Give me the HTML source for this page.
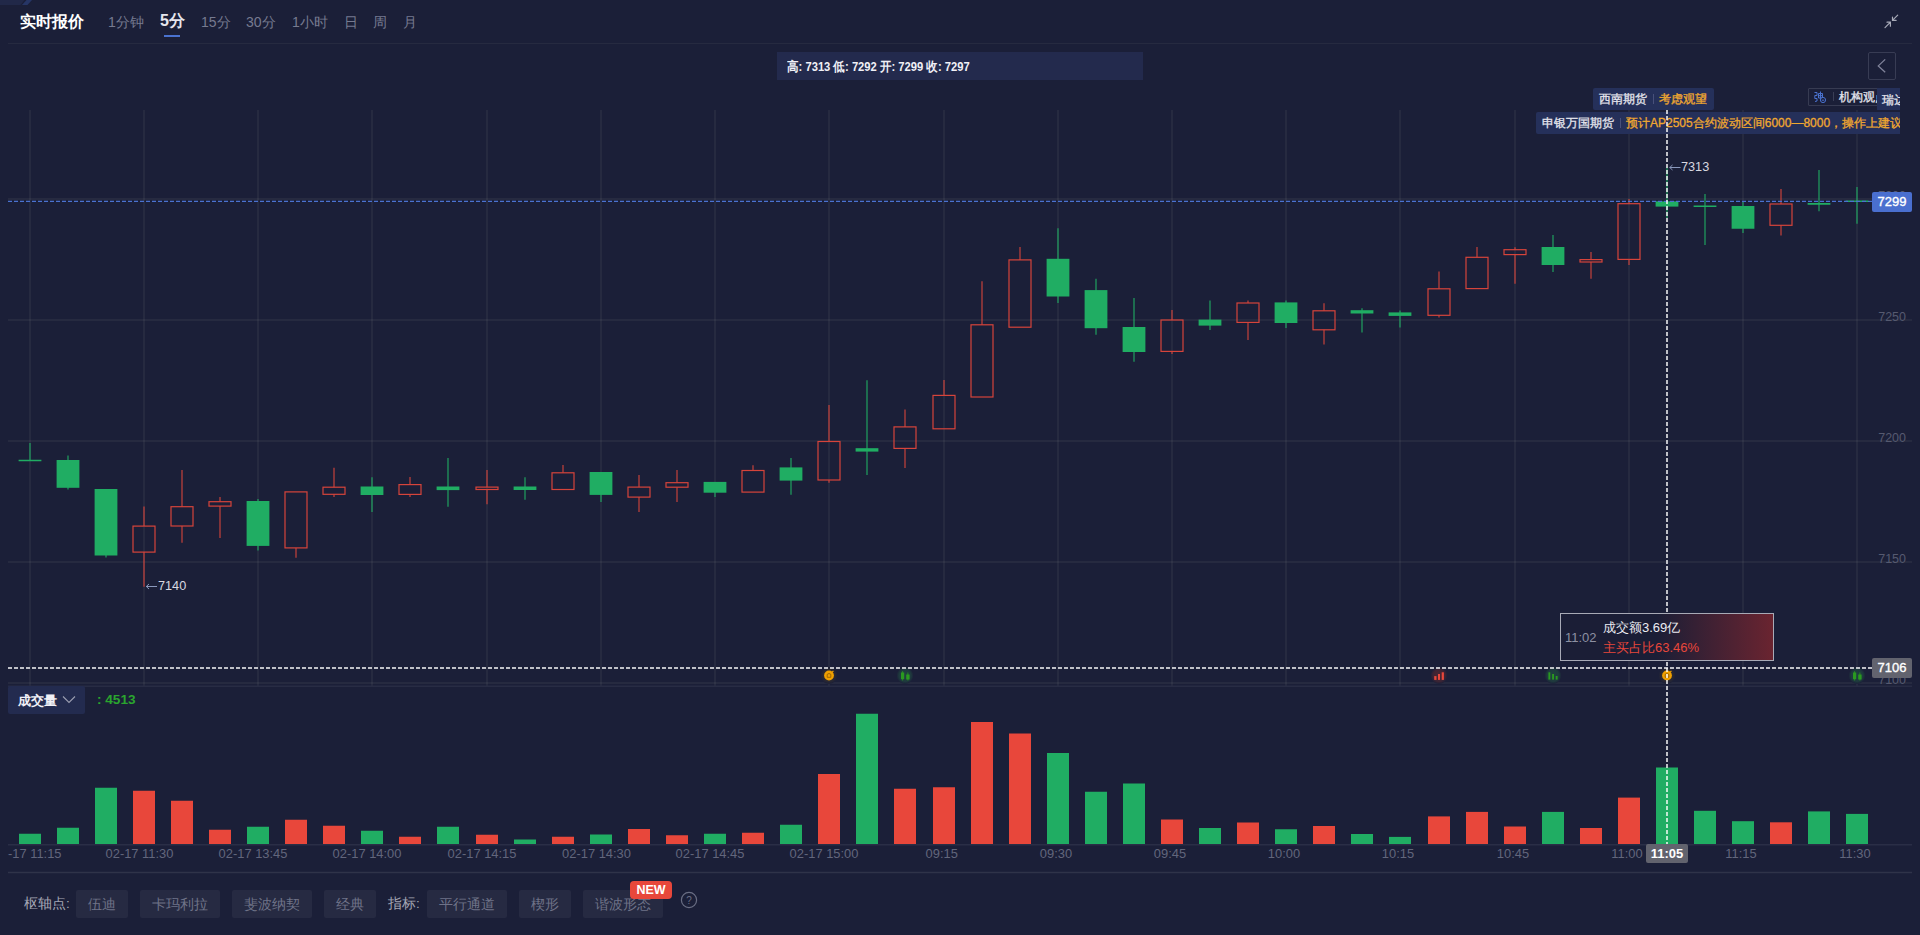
<!DOCTYPE html>
<html><head><meta charset="utf-8">
<style>
html,body{margin:0;padding:0;}
body{width:1920px;height:935px;overflow:hidden;background:#1b1f38;position:relative;font-family:"Liberation Sans",sans-serif;}
.abs{position:absolute;}
svg{position:absolute;left:0;top:0;}
.tab{position:absolute;top:12px;font-size:14px;color:#767a90;line-height:20px;white-space:nowrap;}
.xl{position:absolute;top:846px;font-size:12.9px;color:#62667c;line-height:16px;white-space:nowrap;}
.btn{position:absolute;top:890px;height:28px;line-height:28px;background:#262a42;border-radius:2px;color:#6f7388;font-size:14px;text-align:center;}
.lbl{position:absolute;top:894px;line-height:20px;color:#a4a6b4;font-size:13.5px;white-space:nowrap;}
</style></head><body>
<svg class="abs" style="left:0;top:0" width="40" height="8"><polygon points="0,0 24.5,0 20.5,5 0,5" fill="#212848"/><polygon points="26.5,0 32,0 27.5,5 22,5" fill="#263565"/></svg>
<div class="abs" style="left:20px;top:11px;font-size:16px;font-weight:bold;color:#ffffff;line-height:22px;">实时报价</div>
<div class="tab" style="left:108px">1分钟</div>
<div class="tab" style="left:160px;top:10px;font-size:16px;font-weight:bold;color:#e6e6ee;line-height:22px">5分</div>
<div class="abs" style="left:164px;top:35px;width:16px;height:2px;background:#4a72d0"></div>
<div class="tab" style="left:201px">15分</div>
<div class="tab" style="left:246px">30分</div>
<div class="tab" style="left:292px">1小时</div>
<div class="tab" style="left:344px">日</div>
<div class="tab" style="left:373px">周</div>
<div class="tab" style="left:403px">月</div>
<div class="abs" style="left:8px;top:43px;width:1904px;height:1px;background:#262a40"></div>
<svg class="abs" style="left:1880px;top:10px" width="24" height="24" viewBox="0 0 24 24"><g stroke="#a8aab8" stroke-width="1.2" fill="none" stroke-linecap="round"><path d="M5 17.6 L10.2 12.4 M7 12.2 L10.4 12.2 L10.4 16.2"/><path d="M17.7 5.2 L12.7 10.2 M12.5 7 L12.5 10.4 L16.1 10.4"/></g></svg>

<div class="abs" style="left:777px;top:52px;width:366px;height:28px;background:#232a4d;"></div>
<div class="abs" style="left:787px;top:59px;font-size:12.6px;font-weight:bold;color:#f0f0f6;line-height:16px;white-space:nowrap;transform:scaleX(0.89);transform-origin:0 0;">高: 7313 低: 7292 开: 7299 收: 7297</div>

<div class="abs" style="left:1868px;top:52px;width:26px;height:26px;border:1px solid #383c54;border-radius:2px;"></div>
<svg class="abs" style="left:1868px;top:52px" width="28" height="28"><path d="M17.2 7.4 L10.3 13.9 L17.2 20.2" stroke="#80839a" stroke-width="1.3" fill="none"/></svg>

<svg width="1920" height="935" font-family="Liberation Sans, sans-serif">
<line x1="8" y1="199" x2="1912" y2="199" stroke="rgb(150,160,150)" stroke-opacity="0.09" stroke-width="2"/>
<line x1="8" y1="320" x2="1912" y2="320" stroke="rgb(150,160,150)" stroke-opacity="0.09" stroke-width="2"/>
<line x1="8" y1="441" x2="1912" y2="441" stroke="rgb(150,160,150)" stroke-opacity="0.09" stroke-width="2"/>
<line x1="8" y1="562" x2="1912" y2="562" stroke="rgb(150,160,150)" stroke-opacity="0.09" stroke-width="2"/>
<line x1="8" y1="683" x2="1912" y2="683" stroke="rgb(150,160,150)" stroke-opacity="0.09" stroke-width="2"/>
<line x1="30" y1="110" x2="30" y2="686" stroke="rgb(150,160,150)" stroke-opacity="0.09" stroke-width="2"/>
<line x1="144" y1="110" x2="144" y2="686" stroke="rgb(150,160,150)" stroke-opacity="0.09" stroke-width="2"/>
<line x1="258" y1="110" x2="258" y2="686" stroke="rgb(150,160,150)" stroke-opacity="0.09" stroke-width="2"/>
<line x1="372" y1="110" x2="372" y2="686" stroke="rgb(150,160,150)" stroke-opacity="0.09" stroke-width="2"/>
<line x1="487" y1="110" x2="487" y2="686" stroke="rgb(150,160,150)" stroke-opacity="0.09" stroke-width="2"/>
<line x1="601" y1="110" x2="601" y2="686" stroke="rgb(150,160,150)" stroke-opacity="0.09" stroke-width="2"/>
<line x1="715" y1="110" x2="715" y2="686" stroke="rgb(150,160,150)" stroke-opacity="0.09" stroke-width="2"/>
<line x1="829" y1="110" x2="829" y2="686" stroke="rgb(150,160,150)" stroke-opacity="0.09" stroke-width="2"/>
<line x1="944" y1="110" x2="944" y2="686" stroke="rgb(150,160,150)" stroke-opacity="0.09" stroke-width="2"/>
<line x1="1058" y1="110" x2="1058" y2="686" stroke="rgb(150,160,150)" stroke-opacity="0.09" stroke-width="2"/>
<line x1="1172" y1="110" x2="1172" y2="686" stroke="rgb(150,160,150)" stroke-opacity="0.09" stroke-width="2"/>
<line x1="1286" y1="110" x2="1286" y2="686" stroke="rgb(150,160,150)" stroke-opacity="0.09" stroke-width="2"/>
<line x1="1400" y1="110" x2="1400" y2="686" stroke="rgb(150,160,150)" stroke-opacity="0.09" stroke-width="2"/>
<line x1="1515" y1="110" x2="1515" y2="686" stroke="rgb(150,160,150)" stroke-opacity="0.09" stroke-width="2"/>
<line x1="1629" y1="110" x2="1629" y2="686" stroke="rgb(150,160,150)" stroke-opacity="0.09" stroke-width="2"/>
<line x1="1743" y1="110" x2="1743" y2="686" stroke="rgb(150,160,150)" stroke-opacity="0.09" stroke-width="2"/>
<line x1="1857" y1="110" x2="1857" y2="686" stroke="rgb(150,160,150)" stroke-opacity="0.09" stroke-width="2"/>
<line x1="8" y1="686.3" x2="1912" y2="686.3" stroke="#282c44" stroke-width="1.5"/>
<text x="1906" y="321.1" text-anchor="end" font-size="12.5" fill="#565a70">7250</text>
<text x="1906" y="442.1" text-anchor="end" font-size="12.5" fill="#565a70">7200</text>
<text x="1906" y="563.1" text-anchor="end" font-size="12.5" fill="#565a70">7150</text>
<text x="1906" y="684.1" text-anchor="end" font-size="12.5" fill="#565a70">7100</text>
<text x="1906" y="199.6" text-anchor="end" font-size="12.5" fill="#565a70">7300</text>
<line x1="30" y1="443" x2="30" y2="461" stroke="#20ad63" stroke-width="1.1"/>
<rect x="18.6" y="459.75" width="22.8" height="1.50" fill="#20ad63"/>
<line x1="68" y1="455.5" x2="68" y2="489.6" stroke="#20ad63" stroke-width="1.1"/>
<rect x="56.6" y="460" width="22.8" height="27.80" fill="#20ad63"/>
<line x1="106" y1="489" x2="106" y2="557.6" stroke="#20ad63" stroke-width="1.1"/>
<rect x="94.6" y="489" width="22.8" height="66.50" fill="#20ad63"/>
<line x1="144" y1="506.4" x2="144" y2="526.10" stroke="#d6443b" stroke-width="1.1"/>
<line x1="144" y1="552.10" x2="144" y2="586.7" stroke="#d6443b" stroke-width="1.1"/>
<rect x="133" y="526.10" width="22" height="26.00" fill="none" stroke="#d6443b" stroke-width="1.2"/>
<line x1="182" y1="469.9" x2="182" y2="506.70" stroke="#d6443b" stroke-width="1.1"/>
<line x1="182" y1="526.00" x2="182" y2="542.7" stroke="#d6443b" stroke-width="1.1"/>
<rect x="171" y="506.70" width="22" height="19.30" fill="none" stroke="#d6443b" stroke-width="1.2"/>
<line x1="220" y1="496.9" x2="220" y2="501.70" stroke="#d6443b" stroke-width="1.1"/>
<line x1="220" y1="506.10" x2="220" y2="538" stroke="#d6443b" stroke-width="1.1"/>
<rect x="209" y="501.70" width="22" height="4.40" fill="none" stroke="#d6443b" stroke-width="1.2"/>
<line x1="258" y1="499" x2="258" y2="550.4" stroke="#20ad63" stroke-width="1.1"/>
<rect x="246.6" y="501" width="22.8" height="44.90" fill="#20ad63"/>
<line x1="296" y1="547.90" x2="296" y2="557.8" stroke="#d6443b" stroke-width="1.1"/>
<rect x="285" y="491.90" width="22" height="56.00" fill="none" stroke="#d6443b" stroke-width="1.2"/>
<line x1="334" y1="467.7" x2="334" y2="487.20" stroke="#d6443b" stroke-width="1.1"/>
<line x1="334" y1="494.30" x2="334" y2="496.9" stroke="#d6443b" stroke-width="1.1"/>
<rect x="323" y="487.20" width="22" height="7.10" fill="none" stroke="#d6443b" stroke-width="1.2"/>
<line x1="372" y1="477.3" x2="372" y2="512" stroke="#20ad63" stroke-width="1.1"/>
<rect x="360.6" y="486.5" width="22.8" height="8.50" fill="#20ad63"/>
<line x1="410" y1="477.1" x2="410" y2="484.60" stroke="#d6443b" stroke-width="1.1"/>
<line x1="410" y1="494.40" x2="410" y2="496.9" stroke="#d6443b" stroke-width="1.1"/>
<rect x="399" y="484.60" width="22" height="9.80" fill="none" stroke="#d6443b" stroke-width="1.2"/>
<line x1="448" y1="458.1" x2="448" y2="506.8" stroke="#20ad63" stroke-width="1.1"/>
<rect x="436.6" y="486.5" width="22.8" height="3.60" fill="#20ad63"/>
<line x1="487" y1="470.1" x2="487" y2="487.10" stroke="#d6443b" stroke-width="1.1"/>
<line x1="487" y1="489.50" x2="487" y2="504.2" stroke="#d6443b" stroke-width="1.1"/>
<rect x="476" y="487.10" width="22" height="2.40" fill="none" stroke="#d6443b" stroke-width="1.2"/>
<line x1="525" y1="477.3" x2="525" y2="499.8" stroke="#20ad63" stroke-width="1.1"/>
<rect x="513.6" y="486.5" width="22.8" height="3.50" fill="#20ad63"/>
<line x1="563" y1="465.1" x2="563" y2="472.80" stroke="#d6443b" stroke-width="1.1"/>
<rect x="552" y="472.80" width="22" height="16.70" fill="none" stroke="#d6443b" stroke-width="1.2"/>
<line x1="601" y1="472" x2="601" y2="501.9" stroke="#20ad63" stroke-width="1.1"/>
<rect x="589.6" y="472" width="22.8" height="22.90" fill="#20ad63"/>
<line x1="639" y1="475.1" x2="639" y2="487.10" stroke="#d6443b" stroke-width="1.1"/>
<line x1="639" y1="497.10" x2="639" y2="512" stroke="#d6443b" stroke-width="1.1"/>
<rect x="628" y="487.10" width="22" height="10.00" fill="none" stroke="#d6443b" stroke-width="1.2"/>
<line x1="677" y1="470.1" x2="677" y2="482.70" stroke="#d6443b" stroke-width="1.1"/>
<line x1="677" y1="487.20" x2="677" y2="501.9" stroke="#d6443b" stroke-width="1.1"/>
<rect x="666" y="482.70" width="22" height="4.50" fill="none" stroke="#d6443b" stroke-width="1.2"/>
<line x1="715" y1="481.9" x2="715" y2="496.9" stroke="#20ad63" stroke-width="1.1"/>
<rect x="703.6" y="481.9" width="22.8" height="10.80" fill="#20ad63"/>
<line x1="753" y1="465.3" x2="753" y2="470.50" stroke="#d6443b" stroke-width="1.1"/>
<rect x="742" y="470.50" width="22" height="21.60" fill="none" stroke="#d6443b" stroke-width="1.2"/>
<line x1="791" y1="457.9" x2="791" y2="494.8" stroke="#20ad63" stroke-width="1.1"/>
<rect x="779.6" y="467.4" width="22.8" height="13.20" fill="#20ad63"/>
<line x1="829" y1="405" x2="829" y2="441.50" stroke="#d6443b" stroke-width="1.1"/>
<line x1="829" y1="480.00" x2="829" y2="482.7" stroke="#d6443b" stroke-width="1.1"/>
<rect x="818" y="441.50" width="22" height="38.50" fill="none" stroke="#d6443b" stroke-width="1.2"/>
<line x1="867" y1="380.2" x2="867" y2="475" stroke="#20ad63" stroke-width="1.1"/>
<rect x="855.6" y="448.2" width="22.8" height="3.40" fill="#20ad63"/>
<line x1="905" y1="409.6" x2="905" y2="426.90" stroke="#d6443b" stroke-width="1.1"/>
<line x1="905" y1="448.40" x2="905" y2="468" stroke="#d6443b" stroke-width="1.1"/>
<rect x="894" y="426.90" width="22" height="21.50" fill="none" stroke="#d6443b" stroke-width="1.2"/>
<line x1="944" y1="380" x2="944" y2="395.40" stroke="#d6443b" stroke-width="1.1"/>
<rect x="933" y="395.40" width="22" height="33.40" fill="none" stroke="#d6443b" stroke-width="1.2"/>
<line x1="982" y1="281.2" x2="982" y2="324.80" stroke="#d6443b" stroke-width="1.1"/>
<rect x="971" y="324.80" width="22" height="72.20" fill="none" stroke="#d6443b" stroke-width="1.2"/>
<line x1="1020" y1="247" x2="1020" y2="259.90" stroke="#d6443b" stroke-width="1.1"/>
<rect x="1009" y="259.90" width="22" height="67.30" fill="none" stroke="#d6443b" stroke-width="1.2"/>
<line x1="1058" y1="228.2" x2="1058" y2="303" stroke="#20ad63" stroke-width="1.1"/>
<rect x="1046.6" y="258.8" width="22.8" height="37.70" fill="#20ad63"/>
<line x1="1096" y1="278.8" x2="1096" y2="334.8" stroke="#20ad63" stroke-width="1.1"/>
<rect x="1084.6" y="290.1" width="22.8" height="38.10" fill="#20ad63"/>
<line x1="1134" y1="298" x2="1134" y2="361.8" stroke="#20ad63" stroke-width="1.1"/>
<rect x="1122.6" y="327" width="22.8" height="25.00" fill="#20ad63"/>
<line x1="1172" y1="310" x2="1172" y2="320.00" stroke="#d6443b" stroke-width="1.1"/>
<line x1="1172" y1="351.40" x2="1172" y2="354" stroke="#d6443b" stroke-width="1.1"/>
<rect x="1161" y="320.00" width="22" height="31.40" fill="none" stroke="#d6443b" stroke-width="1.2"/>
<line x1="1210" y1="300.4" x2="1210" y2="330" stroke="#20ad63" stroke-width="1.1"/>
<rect x="1198.6" y="319.6" width="22.8" height="6.00" fill="#20ad63"/>
<line x1="1248" y1="300.4" x2="1248" y2="303.00" stroke="#d6443b" stroke-width="1.1"/>
<line x1="1248" y1="322.40" x2="1248" y2="339.9" stroke="#d6443b" stroke-width="1.1"/>
<rect x="1237" y="303.00" width="22" height="19.40" fill="none" stroke="#d6443b" stroke-width="1.2"/>
<line x1="1286" y1="300.4" x2="1286" y2="327.9" stroke="#20ad63" stroke-width="1.1"/>
<rect x="1274.6" y="302.4" width="22.8" height="20.60" fill="#20ad63"/>
<line x1="1324" y1="303.2" x2="1324" y2="310.80" stroke="#d6443b" stroke-width="1.1"/>
<line x1="1324" y1="329.80" x2="1324" y2="344.5" stroke="#d6443b" stroke-width="1.1"/>
<rect x="1313" y="310.80" width="22" height="19.00" fill="none" stroke="#d6443b" stroke-width="1.2"/>
<line x1="1362" y1="308.2" x2="1362" y2="332.4" stroke="#20ad63" stroke-width="1.1"/>
<rect x="1350.6" y="310.2" width="22.8" height="3.30" fill="#20ad63"/>
<line x1="1400" y1="310.4" x2="1400" y2="327.6" stroke="#20ad63" stroke-width="1.1"/>
<rect x="1388.6" y="312.4" width="22.8" height="3.50" fill="#20ad63"/>
<line x1="1439" y1="271.5" x2="1439" y2="288.80" stroke="#d6443b" stroke-width="1.1"/>
<line x1="1439" y1="315.30" x2="1439" y2="317.6" stroke="#d6443b" stroke-width="1.1"/>
<rect x="1428" y="288.80" width="22" height="26.50" fill="none" stroke="#d6443b" stroke-width="1.2"/>
<line x1="1477" y1="247" x2="1477" y2="257.30" stroke="#d6443b" stroke-width="1.1"/>
<rect x="1466" y="257.30" width="22" height="31.30" fill="none" stroke="#d6443b" stroke-width="1.2"/>
<line x1="1515" y1="247.3" x2="1515" y2="249.70" stroke="#d6443b" stroke-width="1.1"/>
<line x1="1515" y1="254.60" x2="1515" y2="283.7" stroke="#d6443b" stroke-width="1.1"/>
<rect x="1504" y="249.70" width="22" height="4.90" fill="none" stroke="#d6443b" stroke-width="1.2"/>
<line x1="1553" y1="235" x2="1553" y2="272" stroke="#20ad63" stroke-width="1.1"/>
<rect x="1541.6" y="247" width="22.8" height="18.00" fill="#20ad63"/>
<line x1="1591" y1="252.1" x2="1591" y2="259.60" stroke="#d6443b" stroke-width="1.1"/>
<line x1="1591" y1="262.00" x2="1591" y2="278.7" stroke="#d6443b" stroke-width="1.1"/>
<rect x="1580" y="259.60" width="22" height="2.40" fill="none" stroke="#d6443b" stroke-width="1.2"/>
<line x1="1629" y1="199.1" x2="1629" y2="203.70" stroke="#d6443b" stroke-width="1.1"/>
<line x1="1629" y1="259.40" x2="1629" y2="265" stroke="#d6443b" stroke-width="1.1"/>
<rect x="1618" y="203.70" width="22" height="55.70" fill="none" stroke="#d6443b" stroke-width="1.2"/>
<line x1="1667" y1="167.7" x2="1667" y2="218.1" stroke="#20ad63" stroke-width="1.1"/>
<rect x="1655.6" y="201.3" width="22.8" height="5.30" fill="#20ad63"/>
<line x1="1705" y1="194" x2="1705" y2="245" stroke="#20ad63" stroke-width="1.1"/>
<rect x="1693.6" y="205.5" width="22.8" height="1.50" fill="#20ad63"/>
<line x1="1743" y1="201.9" x2="1743" y2="232.9" stroke="#20ad63" stroke-width="1.1"/>
<rect x="1731.6" y="206" width="22.8" height="22.75" fill="#20ad63"/>
<line x1="1781" y1="189.1" x2="1781" y2="204.00" stroke="#d6443b" stroke-width="1.1"/>
<line x1="1781" y1="225.30" x2="1781" y2="235.6" stroke="#d6443b" stroke-width="1.1"/>
<rect x="1770" y="204.00" width="22" height="21.30" fill="none" stroke="#d6443b" stroke-width="1.2"/>
<line x1="1819" y1="170" x2="1819" y2="211.25" stroke="#20ad63" stroke-width="1.1"/>
<rect x="1807.6" y="203" width="22.8" height="1.75" fill="#20ad63"/>
<line x1="1857" y1="186.9" x2="1857" y2="223.75" stroke="#20ad63" stroke-width="1.1"/>
<rect x="1845.6" y="200.5" width="22.8" height="1.50" fill="#20ad63"/>
<line x1="8" y1="201.4" x2="1872" y2="201.4" stroke="#4a72d0" stroke-width="1.2" stroke-dasharray="4 2"/>
<rect x="19" y="833.75" width="22" height="10.25" fill="#20ad63"/>
<rect x="57" y="827.75" width="22" height="16.25" fill="#20ad63"/>
<rect x="95" y="787.75" width="22" height="56.25" fill="#20ad63"/>
<rect x="133" y="790.75" width="22" height="53.25" fill="#e8473b"/>
<rect x="171" y="800.75" width="22" height="43.25" fill="#e8473b"/>
<rect x="209" y="829.75" width="22" height="14.25" fill="#e8473b"/>
<rect x="247" y="826.75" width="22" height="17.25" fill="#20ad63"/>
<rect x="285" y="819.75" width="22" height="24.25" fill="#e8473b"/>
<rect x="323" y="825.75" width="22" height="18.25" fill="#e8473b"/>
<rect x="361" y="830.75" width="22" height="13.25" fill="#20ad63"/>
<rect x="399" y="836.75" width="22" height="7.25" fill="#e8473b"/>
<rect x="437" y="826.75" width="22" height="17.25" fill="#20ad63"/>
<rect x="476" y="834.75" width="22" height="9.25" fill="#e8473b"/>
<rect x="514" y="839.5" width="22" height="4.50" fill="#20ad63"/>
<rect x="552" y="836.75" width="22" height="7.25" fill="#e8473b"/>
<rect x="590" y="834.5" width="22" height="9.50" fill="#20ad63"/>
<rect x="628" y="829" width="22" height="15.00" fill="#e8473b"/>
<rect x="666" y="835.25" width="22" height="8.75" fill="#e8473b"/>
<rect x="704" y="833.75" width="22" height="10.25" fill="#20ad63"/>
<rect x="742" y="832.75" width="22" height="11.25" fill="#e8473b"/>
<rect x="780" y="824.75" width="22" height="19.25" fill="#20ad63"/>
<rect x="818" y="774" width="22" height="70.00" fill="#e8473b"/>
<rect x="856" y="713.75" width="22" height="130.25" fill="#20ad63"/>
<rect x="894" y="788.75" width="22" height="55.25" fill="#e8473b"/>
<rect x="933" y="787.25" width="22" height="56.75" fill="#e8473b"/>
<rect x="971" y="722" width="22" height="122.00" fill="#e8473b"/>
<rect x="1009" y="733.5" width="22" height="110.50" fill="#e8473b"/>
<rect x="1047" y="753" width="22" height="91.00" fill="#20ad63"/>
<rect x="1085" y="791.75" width="22" height="52.25" fill="#20ad63"/>
<rect x="1123" y="783.5" width="22" height="60.50" fill="#20ad63"/>
<rect x="1161" y="819.5" width="22" height="24.50" fill="#e8473b"/>
<rect x="1199" y="828" width="22" height="16.00" fill="#20ad63"/>
<rect x="1237" y="822.5" width="22" height="21.50" fill="#e8473b"/>
<rect x="1275" y="829.25" width="22" height="14.75" fill="#20ad63"/>
<rect x="1313" y="826" width="22" height="18.00" fill="#e8473b"/>
<rect x="1351" y="834" width="22" height="10.00" fill="#20ad63"/>
<rect x="1389" y="836.9" width="22" height="7.10" fill="#20ad63"/>
<rect x="1428" y="816.4" width="22" height="27.60" fill="#e8473b"/>
<rect x="1466" y="811.9" width="22" height="32.10" fill="#e8473b"/>
<rect x="1504" y="826.5" width="22" height="17.50" fill="#e8473b"/>
<rect x="1542" y="811.9" width="22" height="32.10" fill="#20ad63"/>
<rect x="1580" y="828" width="22" height="16.00" fill="#e8473b"/>
<rect x="1618" y="797.6" width="22" height="46.40" fill="#e8473b"/>
<rect x="1656" y="767.5" width="22" height="76.50" fill="#20ad63"/>
<rect x="1694" y="810.8" width="22" height="33.20" fill="#20ad63"/>
<rect x="1732" y="821.2" width="22" height="22.80" fill="#20ad63"/>
<rect x="1770" y="822.3" width="22" height="21.70" fill="#e8473b"/>
<rect x="1808" y="811.4" width="22" height="32.60" fill="#20ad63"/>
<rect x="1846" y="813.9" width="22" height="30.10" fill="#20ad63"/>
<line x1="8" y1="844.8" x2="1912" y2="844.8" stroke="#2a2e46" stroke-width="1.5"/>
<line x1="8" y1="872.6" x2="1912" y2="872.6" stroke="#2f3349" stroke-width="1.5"/>
<defs><radialGradient id="gR"><stop offset="0" stop-color="#4d2632"/><stop offset="0.7" stop-color="#3d2434"/><stop offset="1" stop-color="#1b1f38"/></radialGradient><radialGradient id="gG"><stop offset="0" stop-color="#1f4140"/><stop offset="0.7" stop-color="#1e3a3d"/><stop offset="1" stop-color="#1b1f38"/></radialGradient><radialGradient id="gO"><stop offset="0" stop-color="#4a3d24"/><stop offset="1" stop-color="#1b1f38"/></radialGradient></defs>
<circle cx="829" cy="675.5" r="8.5" fill="url(#gO)"/><circle cx="829" cy="675.5" r="4.9" fill="#f0a000"/><path d="M827.2 674.3 Q829 672.7 830.8 674.3 L830.8 677.3 L827.2 677.3 Z" fill="none" stroke="#8a5a00" stroke-width="0.8"/><path d="M832 672.3 L833.4 670.9" stroke="#f0a000" stroke-width="1.2"/>
<circle cx="905" cy="675.5" r="8.5" fill="url(#gG)"/><path d="M902.6 671.1 L902.6 680.5 M907.9 672.5 L907.9 680.5" stroke="#2a9a20" stroke-width="0.8"/><rect x="901" y="672.5" width="3.2" height="6.7" fill="#2a9a20"/><rect x="906.2" y="674.5" width="3.4" height="5" fill="#2a9a20"/>
<circle cx="1439" cy="675.5" r="8.5" fill="url(#gR)"/><rect x="1434.2" y="676.1" width="2.3" height="3.8" fill="#e8473b"/><rect x="1438" y="674.0" width="2" height="5.9" fill="#e8473b"/><rect x="1441.7" y="672.3" width="2.2" height="7.6" fill="#e8473b"/>
<circle cx="1553" cy="675.5" r="8.5" fill="url(#gG)"/><rect x="1548.4" y="672.3" width="1.9" height="7.3" fill="#2a9a20"/><rect x="1552.1" y="674.0" width="1.9" height="5.6" fill="#2a9a20"/><rect x="1555.7" y="676.0" width="1.9" height="3.6" fill="#2a9a20"/>
<circle cx="1667" cy="675.5" r="8.5" fill="url(#gO)"/><circle cx="1667" cy="675.5" r="4.9" fill="#f0a000"/><path d="M1665.2 674.3 Q1667 672.7 1668.8 674.3 L1668.8 677.3 L1665.2 677.3 Z" fill="none" stroke="#8a5a00" stroke-width="0.8"/><path d="M1670 672.3 L1671.4 670.9" stroke="#f0a000" stroke-width="1.2"/>
<circle cx="1857" cy="675.5" r="8.5" fill="url(#gG)"/><path d="M1854.6 671.1 L1854.6 680.5 M1859.9 672.5 L1859.9 680.5" stroke="#2a9a20" stroke-width="0.8"/><rect x="1853" y="672.5" width="3.2" height="6.7" fill="#2a9a20"/><rect x="1858.2" y="674.5" width="3.4" height="5" fill="#2a9a20"/>
<line x1="1667" y1="152" x2="1667" y2="844" stroke="#ffffff" stroke-opacity="0.72" stroke-width="2" stroke-dasharray="4 2"/>
<line x1="8" y1="668" x2="1872" y2="668" stroke="#ffffff" stroke-opacity="0.72" stroke-width="2" stroke-dasharray="4 2"/>
</svg>

<div class="abs" style="left:0;top:0;width:1900px;height:140px;overflow:hidden;pointer-events:none">
  <div class="abs" style="left:1593px;top:88px;width:121px;height:22px;background:#25305a;border-radius:2px;"></div>
  <div class="abs" style="left:1599px;top:91px;font-size:12px;line-height:16px;color:#e4e4ec;-webkit-text-stroke:0.3px #e4e4ec;white-space:nowrap">西南期货</div>
  <div class="abs" style="left:1653px;top:94px;width:1px;height:10px;background:#48507a"></div>
  <div class="abs" style="left:1659px;top:91px;font-size:12px;line-height:16px;color:#f0a830;-webkit-text-stroke:0.3px #f0a830;white-space:nowrap">考虑观望</div>

  <div class="abs" style="left:1808px;top:88px;width:70px;height:15.5px;border:1px solid #373b52;border-radius:1px;"></div>
  <svg class="abs" style="left:1812px;top:89px" width="16" height="16"><g stroke="#4a72d0" stroke-width="1" fill="none"><path d="M2.5 3.5 L5 3.5 L5 6.5 L2.8 6.5 L2.8 9.5 L5 9.5 L5 12 L3 12.5"/><path d="M6.5 4.5 L10.5 4.5 L10.5 9 L6.5 9 Z M6.5 6.7 L10.5 6.7 M8.5 2.5 L8.5 11"/><circle cx="11" cy="11" r="2.6" fill="#1b1f38"/><path d="M9.8 11.2 L12.2 11.2"/></g></svg>
  <div class="abs" style="left:1833px;top:92px;width:1px;height:9px;background:#3a3e56"></div>
  <div class="abs" style="left:1839px;top:89px;font-size:12px;line-height:16px;color:#e4e4ec;-webkit-text-stroke:0.3px #e4e4ec;white-space:nowrap">机构观点</div>
  <div class="abs" style="left:1877px;top:88px;width:30px;height:22px;background:#25305a;"></div>
  <div class="abs" style="left:1882px;top:92px;font-size:12px;line-height:16px;color:#e4e4ec;-webkit-text-stroke:0.3px #e4e4ec;white-space:nowrap">瑞达</div>

  <div class="abs" style="left:1536px;top:112px;width:370px;height:22px;background:#25305a;border-radius:2px;"></div>
  <div class="abs" style="left:1542px;top:115px;font-size:12px;line-height:16px;color:#e4e4ec;-webkit-text-stroke:0.3px #e4e4ec;white-space:nowrap">申银万国期货</div>
  <div class="abs" style="left:1620px;top:118px;width:1px;height:10px;background:#48507a"></div>
  <div class="abs" style="left:1626px;top:115px;font-size:12px;line-height:16px;color:#f0a830;-webkit-text-stroke:0.3px #f0a830;white-space:nowrap">预计AP2505合约波动区间6000—8000，操作上建议</div>
</div>
<svg class="abs" style="left:0;top:0" width="1920" height="935"><line x1="1667" y1="110" x2="1667" y2="152" stroke="#ffffff" stroke-opacity="0.72" stroke-width="2" stroke-dasharray="4 2"/></svg>

<div class="abs" style="left:1681px;top:159px;font-size:12.7px;line-height:16px;color:#d8d8e0;white-space:nowrap">7313</div>
<div class="abs" style="left:158px;top:578px;font-size:12.7px;line-height:16px;color:#d8d8e0;white-space:nowrap">7140</div>
<svg class="abs" style="left:0;top:0" width="1920" height="700"><g stroke="#8a98bc" stroke-width="1" fill="none"><path d="M1669.5 167.5 L1680.5 167.5 M1672.5 165 L1669.8 167.5 L1672.5 170"/><path d="M146 586.5 L157 586.5 M149 584 L146.3 586.5 L149 589"/></g></svg>

<div class="abs" style="left:1872px;top:191.5px;width:40px;height:20px;background:#4a6fcf;border-radius:2px;color:#fff;font-size:13px;line-height:20px;text-align:center;-webkit-text-stroke:0.35px #fff">7299</div>
<div class="abs" style="left:1872px;top:658px;width:40px;height:19.5px;background:#62636e;border-radius:2px;color:#fff;font-size:13px;line-height:20px;text-align:center;-webkit-text-stroke:0.35px #fff">7106</div>

<div class="abs" style="left:1560px;top:613px;width:212px;height:46px;border:1px solid #a8aab6;background:linear-gradient(90deg,#1b1e36 0%,#1b1e36 45%,#6a2430 100%);"></div>
<div class="abs" style="left:1565px;top:630px;font-size:13px;line-height:16px;color:#8d90a2;">11:02</div>
<div class="abs" style="left:1603px;top:619px;font-size:13px;line-height:18px;color:#ececf2;white-space:nowrap">成交额3.69亿</div>
<div class="abs" style="left:1603px;top:639px;font-size:13px;line-height:18px;color:#e8473b;white-space:nowrap">主买占比63.46%</div>

<div class="abs" style="left:8px;top:686px;width:77px;height:28px;background:#232b4f;border-radius:2px;"></div>
<div class="abs" style="left:18px;top:693px;font-size:13px;font-weight:bold;line-height:16px;color:#f0f0f6;white-space:nowrap">成交量</div>
<svg class="abs" style="left:60px;top:692px" width="18" height="14"><path d="M3 4.5 L9 10.5 L15 4.5" stroke="#9a9db0" stroke-width="1.1" fill="none"/></svg>
<div class="abs" style="left:97px;top:692px;font-size:13.6px;font-weight:bold;line-height:16px;color:#2aa52e;white-space:nowrap">: 4513</div>

<div class="xl" style="left:8px">-17 11:15</div>
<div class="xl" style="left:79.5px;width:120px;text-align:center">02-17 11:30</div>
<div class="xl" style="left:193px;width:120px;text-align:center">02-17 13:45</div>
<div class="xl" style="left:307px;width:120px;text-align:center">02-17 14:00</div>
<div class="xl" style="left:422px;width:120px;text-align:center">02-17 14:15</div>
<div class="xl" style="left:536.5px;width:120px;text-align:center">02-17 14:30</div>
<div class="xl" style="left:650px;width:120px;text-align:center">02-17 14:45</div>
<div class="xl" style="left:764px;width:120px;text-align:center">02-17 15:00</div>
<div class="xl" style="left:881.75px;width:120px;text-align:center">09:15</div>
<div class="xl" style="left:996px;width:120px;text-align:center">09:30</div>
<div class="xl" style="left:1110px;width:120px;text-align:center">09:45</div>
<div class="xl" style="left:1224px;width:120px;text-align:center">10:00</div>
<div class="xl" style="left:1338px;width:120px;text-align:center">10:15</div>
<div class="xl" style="left:1453px;width:120px;text-align:center">10:45</div>
<div class="xl" style="left:1567px;width:120px;text-align:center">11:00</div>
<div class="xl" style="left:1681px;width:120px;text-align:center">11:15</div>
<div class="xl" style="left:1795px;width:120px;text-align:center">11:30</div>
<div class="abs" style="left:1646px;top:844px;width:42px;height:19px;background:#62636e;border-radius:2px;color:#fff;font-size:13px;font-weight:bold;line-height:19px;text-align:center">11:05</div>

<div class="lbl" style="left:24px">枢轴点:</div>
<div class="btn" style="left:76px;width:52px">伍迪</div>
<div class="btn" style="left:140px;width:80px">卡玛利拉</div>
<div class="btn" style="left:232px;width:80px">斐波纳契</div>
<div class="btn" style="left:324px;width:52px">经典</div>
<div class="lbl" style="left:388px">指标:</div>
<div class="btn" style="left:427px;width:80px">平行通道</div>
<div class="btn" style="left:519px;width:52px">楔形</div>
<div class="btn" style="left:583px;width:80px">谐波形态</div>
<div class="abs" style="left:630px;top:881px;width:42px;height:18px;background:#e8473b;border-radius:4px;color:#fff;font-size:12.5px;font-weight:bold;line-height:19px;text-align:center">NEW</div>
<svg class="abs" style="left:679px;top:890px" width="20" height="20"><circle cx="10" cy="10" r="7.6" stroke="#6a6e84" stroke-width="1.2" fill="none"/><text x="10" y="14" text-anchor="middle" font-size="10" fill="#6a6e84">?</text></svg>
</body></html>
